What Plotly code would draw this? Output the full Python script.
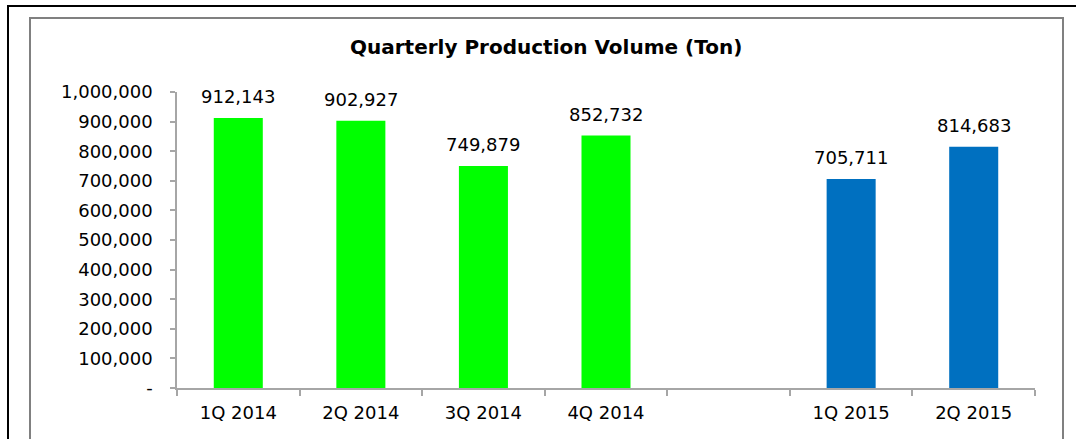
import plotly.graph_objects as go

categories = ["1Q 2014", "2Q 2014", "3Q 2014", "4Q 2014", " ", "1Q 2015", "2Q 2015"]
q2014 = ["1Q 2014", "2Q 2014", "3Q 2014", "4Q 2014"]
v2014 = [912143, 902927, 749879, 852732]
q2015 = ["1Q 2015", "2Q 2015"]
v2015 = [705711, 814683]
ytickvals = [0, 100000, 200000, 300000, 400000, 500000, 600000, 700000, 800000, 900000, 1000000]
yticktext = ["-", "100,000", "200,000", "300,000", "400,000", "500,000", "600,000",
             "700,000", "800,000", "900,000", "1,000,000"]

FONT = "DejaVu Sans"
W, H = 1076, 439
L, R, T, B = 177, 41, 92, 51
PW, PH = W - L - R, H - T - B

def px(x):
    return (x - L) / PW

def py(y):
    return (H - B - y) / PH

fig = go.Figure()
fig.add_trace(go.Bar(x=q2014, y=v2014, marker=dict(color="#00FF00", line=dict(width=0)), hoverinfo="x+y"))
fig.add_trace(go.Bar(x=q2015, y=v2015, marker=dict(color="#0070C0", line=dict(width=0)), hoverinfo="x+y"))

for xs, ys in ((q2014, v2014), (q2015, v2015)):
    for x, y in zip(xs, ys):
        fig.add_annotation(x=x, y=y, text=f"{y:,}", showarrow=False, yanchor="bottom",
                           yshift=9, font=dict(family=FONT, size=18, color="#000000"))

# frames
fig.add_shape(type="rect", xref="paper", yref="paper", x0=px(8), x1=px(1090), y0=py(6), y1=py(460),
              line=dict(color="#000000", width=2), layer="below")
fig.add_shape(type="rect", xref="paper", yref="paper", x0=px(30), x1=px(1063), y0=py(18), y1=py(460),
              line=dict(color="#808080", width=2), layer="below")

fig.add_annotation(xref="paper", yref="paper", x=px(546), y=py(47), text="<b>Quarterly Production Volume (Ton)</b>",
                   showarrow=False, xanchor="center", yanchor="middle",
                   font=dict(family=FONT, size=20, color="#000000"))

fig.update_layout(
    width=W, height=H,
    margin=dict(l=L, r=R, t=T, b=B, pad=0),
    paper_bgcolor="#FFFFFF", plot_bgcolor="#FFFFFF",
    barmode="overlay", bargap=0.6,
    showlegend=False,
    font=dict(family=FONT, size=18, color="#000000"),
    xaxis=dict(type="category", categoryorder="array", categoryarray=categories,
               range=[-0.5, len(categories) - 0.5],
               showline=True, linecolor="#A6A6A6", linewidth=1.5,
               ticks="outside", tickson="boundaries", ticklen=6, tickcolor="#A6A6A6", tickwidth=1.5,
               showgrid=False, ticklabelstandoff=8, tickfont=dict(family=FONT, size=18)),
    yaxis=dict(range=[0, 1000000], tickvals=ytickvals, ticktext=yticktext,
               showline=True, linecolor="#A6A6A6", linewidth=1.5,
               ticks="outside", ticklen=5, tickcolor="#A6A6A6", tickwidth=1.5,
               showgrid=False, zeroline=False, ticklabelstandoff=14,
               tickfont=dict(family=FONT, size=18)),
)

fig.write_html("out.html", config={"displayModeBar": False},
               post_script="document.body.style.margin='0';document.body.style.overflow='hidden';")
